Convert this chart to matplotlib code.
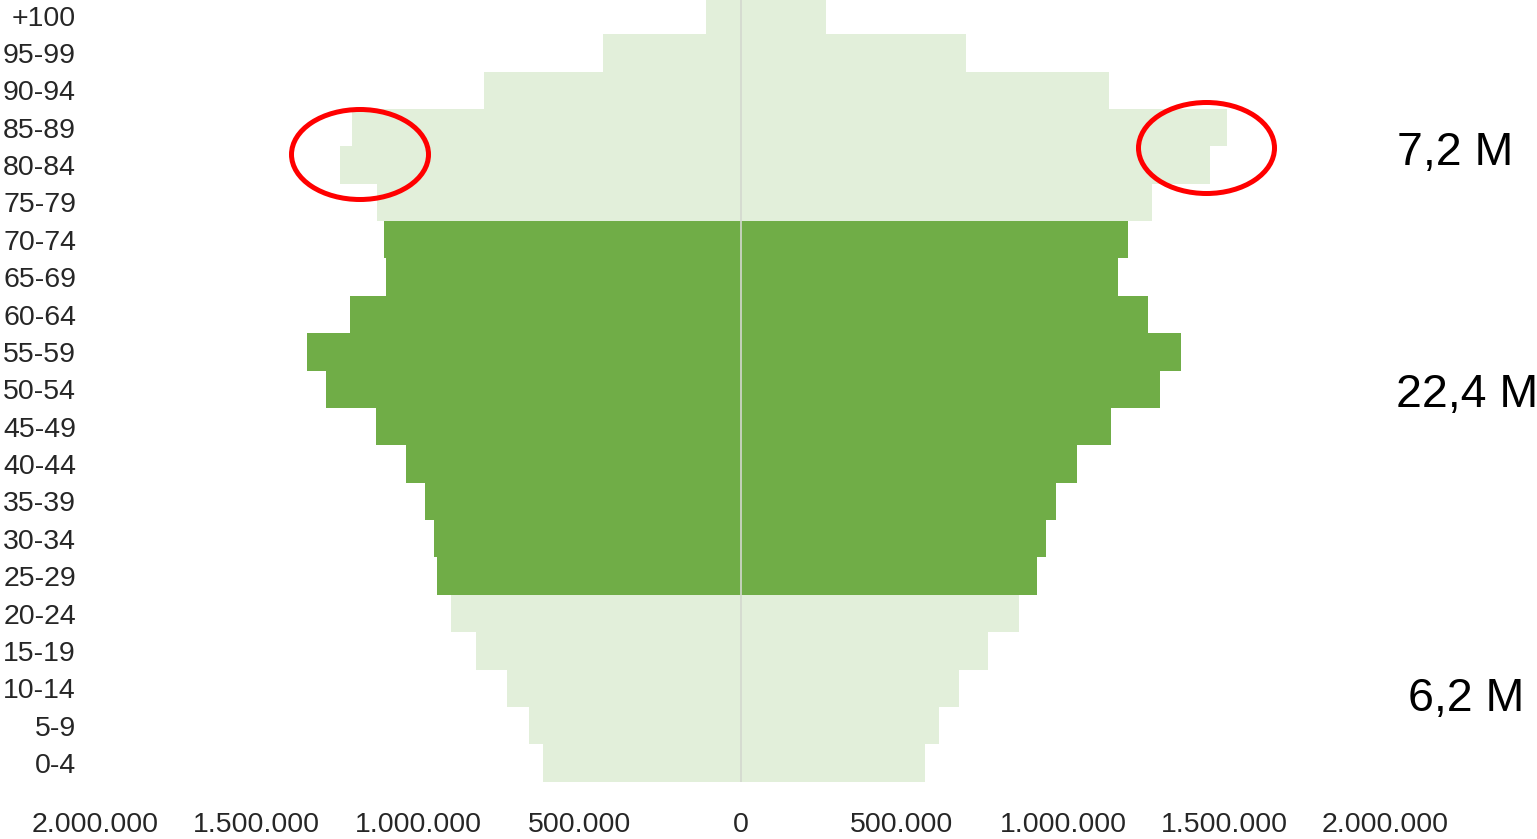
import matplotlib
matplotlib.use("Agg")
import matplotlib.pyplot as plt
from matplotlib.patches import Ellipse
from matplotlib.ticker import FuncFormatter

# ---- data ----
age_groups = ["0-4", "5-9", "10-14", "15-19", "20-24", "25-29", "30-34", "35-39",
              "40-44", "45-49", "50-54", "55-59", "60-64", "65-69", "70-74",
              "75-79", "80-84", "85-89", "90-94", "95-99", "+100"]
men = [612000, 656000, 724000, 820000, 898000, 941000, 950000, 978000,
       1037000, 1130000, 1285000, 1344000, 1211000, 1099000, 1105000,
       1127000, 1242000, 1205000, 795000, 426000, 107000]
women = [572000, 616000, 678000, 767000, 864000, 919000, 947000, 978000,
         1043000, 1149000, 1301000, 1366000, 1264000, 1171000, 1202000,
         1276000, 1456000, 1509000, 1143000, 699000, 265000]
working_age = ["25-29", "30-34", "35-39", "40-44", "45-49", "50-54",
               "55-59", "60-64", "65-69", "70-74"]
group_labels = ["7,2 M", "22,4 M", "6,2 M"]
xticks = [-2000000, -1500000, -1000000, -500000, 0, 500000, 1000000, 1500000, 2000000]

DARK = "#70AD47"
LIGHT = "#E2EFDA"

W, H = 1537, 839
fig = plt.figure(figsize=(W / 100, H / 100), dpi=100)
ax = fig.add_axes([95.5 / W, (H - 781.7) / H, 1290 / W, 781.7 / H])

y = list(range(len(age_groups)))
colors = [DARK if a in working_age else LIGHT for a in age_groups]
ax.barh(y, [-m for m in men], height=1.0, color=colors, edgecolor="none", zorder=2)
ax.barh(y, women, height=1.0, color=colors, edgecolor="none", zorder=2)
ax.axvline(0, color="#D3D8CF", lw=1.2, zorder=3)

ax.set_xlim(-2000000, 2000000)
ax.set_ylim(-0.5, 763 / 37.375)
ax.set_yticks(y)
ax.set_yticklabels(age_groups)
ax.set_xticks(xticks)
ax.xaxis.set_major_formatter(FuncFormatter(lambda v, p: f"{abs(int(v)):,}".replace(",", ".")))

for s in ax.spines.values():
    s.set_visible(False)
ax.tick_params(axis="both", length=0, labelsize=20.5, labelcolor="#262626")
ax.tick_params(axis="y", pad=14)
ax.tick_params(axis="x", pad=21.5)
for lab in ax.get_xticklabels() + ax.get_yticklabels():
    lab.set_fontfamily(["Liberation Sans", "DejaVu Sans"])

# group totals on the right
label_pos = [(1397, 165), (1396, 407), (1408, 711)]
for txt, (px, py) in zip(group_labels, label_pos):
    fig.text(px / W, (H - py) / H, txt, fontsize=33.5, family=["Liberation Sans", "DejaVu Sans"],
             color="black", ha="left", va="baseline")

# red highlight ellipses
for cx, cy, ew, eh in [(360, 154.5, 137, 90), (1206.5, 148, 136, 91)]:
    e = Ellipse((cx / W, (H - cy) / H), ew / W, eh / H, transform=fig.transFigure,
                fill=False, edgecolor="#FF0000", lw=3.6, zorder=10)
    fig.add_artist(e)

fig.savefig("out.png", dpi=100)
